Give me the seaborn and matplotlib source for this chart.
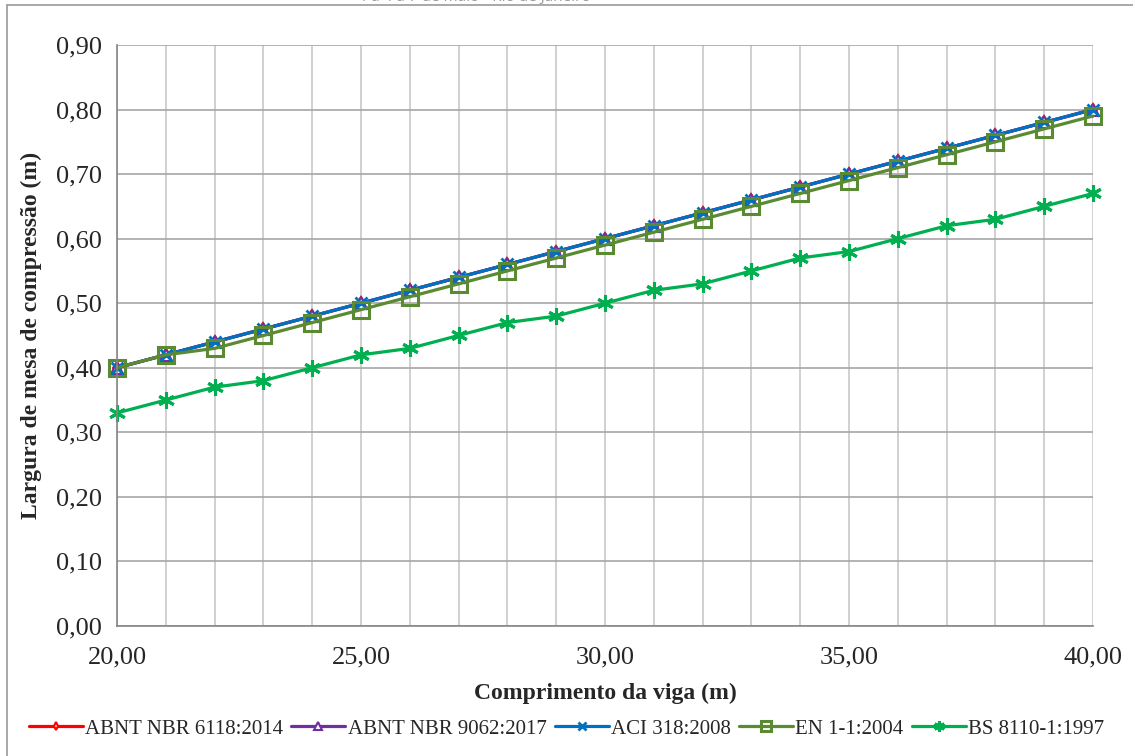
import numpy as np
import pandas as pd
import matplotlib
matplotlib.use('Agg')
import matplotlib.pyplot as plt
import seaborn as sns
from matplotlib.ticker import FuncFormatter, MultipleLocator

# data
comprimento = [20, 21, 22, 23, 24, 25, 26, 27, 28, 29, 30,
               31, 32, 33, 34, 35, 36, 37, 38, 39, 40]
nbr_6118 = [0.40, 0.42, 0.44, 0.46, 0.48, 0.50, 0.52, 0.54, 0.56, 0.58, 0.60,
            0.62, 0.64, 0.66, 0.68, 0.70, 0.72, 0.74, 0.76, 0.78, 0.80]
nbr_9062 = [0.40, 0.42, 0.44, 0.46, 0.48, 0.50, 0.52, 0.54, 0.56, 0.58, 0.60,
            0.62, 0.64, 0.66, 0.68, 0.70, 0.72, 0.74, 0.76, 0.78, 0.80]
aci_318 = [0.40, 0.42, 0.44, 0.46, 0.48, 0.50, 0.52, 0.54, 0.56, 0.58, 0.60,
           0.62, 0.64, 0.66, 0.68, 0.70, 0.72, 0.74, 0.76, 0.78, 0.80]
en_1992 = [0.40, 0.42, 0.43, 0.45, 0.47, 0.49, 0.51, 0.53, 0.55, 0.57, 0.59,
           0.61, 0.63, 0.65, 0.67, 0.69, 0.71, 0.73, 0.75, 0.77, 0.79]
bs_8110 = [0.33, 0.35, 0.37, 0.38, 0.40, 0.42, 0.43, 0.45, 0.47, 0.48, 0.50,
           0.52, 0.53, 0.55, 0.57, 0.58, 0.60, 0.62, 0.63, 0.65, 0.67]

series_names = ['ABNT NBR 6118:2014', 'ABNT NBR 9062:2017', 'ACI 318:2008',
                'EN 1-1:2004', 'BS 8110-1:1997']
series_values = [nbr_6118, nbr_9062, aci_318, en_1992, bs_8110]

# styles
colors = ['#FF0000', '#7030A0', '#0070C0', '#5A8A32', '#00B050']
markers = ['d', '^', 'x', 's', (6, 2, 0)]
msizes = [6, 8, 8, 11, 12]
mfcs = ['white', 'white', None, 'none', None]
mews = [1.5, 1.5, 2.0, 2.2, 2.2]

sns.set_style('white')
plt.rcParams['font.family'] = ['Liberation Serif', 'DejaVu Serif']

fig = plt.figure(figsize=(11.33, 7.56), dpi=100)
ax = fig.add_axes([0.1033, 0.172, 0.8614, 0.7685])

for name, vals, c, m, ms, mfc, mew in zip(series_names, series_values, colors,
                                          markers, msizes, mfcs, mews):
    df = pd.DataFrame({'x': comprimento, 'y': vals})
    kw = dict(marker=m, markersize=ms, markeredgecolor=c, markeredgewidth=mew)
    if mfc is not None:
        kw['markerfacecolor'] = mfc
    sns.lineplot(data=df, x='x', y='y', ax=ax, color=c, linewidth=2.3,
                 label=name, clip_on=False, **kw)

ax.set_xlim(20, 40)
ax.set_ylim(0, 0.9)
ax.xaxis.set_major_locator(MultipleLocator(5))
ax.xaxis.set_minor_locator(MultipleLocator(1))
ax.yaxis.set_major_locator(MultipleLocator(0.1))
fmt = FuncFormatter(lambda v, p: f'{v:.2f}'.replace('.', ','))
ax.xaxis.set_major_formatter(fmt)
ax.yaxis.set_major_formatter(fmt)

ax.grid(True, which='major', axis='y', color='#A6A6A6', linewidth=1.2)
ax.grid(True, which='both', axis='x', color='#C8C8C8', linewidth=1.2)
ax.set_axisbelow(True)

for s in ['top', 'right']:
    ax.spines[s].set_visible(False)
for s in ['left', 'bottom']:
    ax.spines[s].set_color('#868686')
    ax.spines[s].set_linewidth(1.2)

ax.tick_params(axis='both', which='major', direction='out', length=7,
               width=1.2, color='#868686', labelsize=19, pad=4)
ax.tick_params(axis='x', which='minor', length=0)
ax.tick_params(axis='x', which='major', pad=8)

ax.set_xlabel('Comprimento da viga (m)', fontsize=17, fontweight='bold', labelpad=10)
ax.set_ylabel('Largura de mesa de compressão (m)', fontsize=17, fontweight='bold',
              labelpad=10)

ax.legend(loc='lower center', bbox_to_anchor=(0.5, 0.012), bbox_transform=fig.transFigure,
          ncol=5, frameon=False, fontsize=15, handlelength=2.6, handletextpad=0.1,
          columnspacing=0.4, borderaxespad=0, markerscale=0.65)

# faint header cut off at the top of the page
fig.text(0.42, 1.003, 'Pa 4 a 7 de maio - Rio de Janeiro', fontsize=11, color='#9a9a9a',
         ha='center', va='center', family=['Open Sans', 'DejaVu Sans'])

# page frame
fig.add_artist(plt.Line2D([0.006, 0.006], [0.0, 0.993], transform=fig.transFigure,
                          color='#9a9a9a', linewidth=1.2))
fig.add_artist(plt.Line2D([0.006, 1.0], [0.993, 0.993], transform=fig.transFigure,
                          color='#9a9a9a', linewidth=1.2))

fig.savefig('out.png', dpi=100)
